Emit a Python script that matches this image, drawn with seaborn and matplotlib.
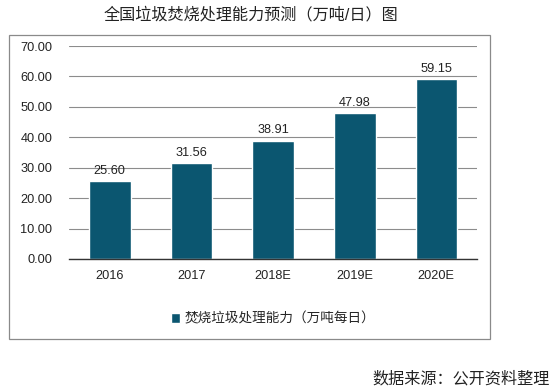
import matplotlib
matplotlib.use('Agg')
import matplotlib.pyplot as plt
import seaborn as sns
import pandas as pd
from matplotlib.patches import Rectangle

# Dados
anos = ['2016', '2017', '2018E', '2019E', '2020E']
capacidade = [25.60, 31.56, 38.91, 47.98, 59.15]
yticks = [0, 10, 20, 30, 40, 50, 60, 70]
titulo = '全国垃圾焚烧处理能力预测（万吨/日）图'
legenda = '焚烧垃圾处理能力（万吨每日）'
fonte = '数据来源：公开资料整理'

sns.set_theme(style="white")
plt.rcParams['font.family'] = ['Liberation Sans', 'Noto Sans CJK SC', 'DejaVu Sans']
plt.rcParams['axes.unicode_minus'] = False

cor = '#0B5670'
df = pd.DataFrame({'ano': anos, 'valor': capacidade})

fig = plt.figure(figsize=(5.51, 3.90), dpi=100)
ax = fig.add_axes([0.125, 0.336, 0.741, 0.546])

sns.barplot(data=df, x='ano', y='valor', color=cor, width=0.51,
            saturation=1, label=legenda, ax=ax)

ax.set_ylim(0, 70)
ax.set_yticks(yticks)
ax.set_yticklabels([f'{v:.2f}' for v in yticks])
ax.yaxis.grid(True, color='#8c8c8c', linewidth=0.8)
ax.set_axisbelow(True)
for s in ['top', 'right', 'left']:
    ax.spines[s].set_visible(False)
ax.spines['bottom'].set_color('#333333')
ax.spines['bottom'].set_linewidth(1.0)
ax.tick_params(axis='y', length=0, pad=12, labelsize=9.2, colors='#222222')
ax.tick_params(axis='x', length=0, pad=8, labelsize=9.2, colors='#222222')
ax.set_xlabel('')
ax.set_ylabel('')

ax.bar_label(ax.containers[0], fmt='%.2f', padding=3, fontsize=9.2, color='#222222')

ax.legend(loc='center', bbox_to_anchor=(0.5, -0.28), frameon=False,
          fontsize=9.8, handlelength=0.7, handleheight=0.7, handletextpad=0.3)

# moldura do gráfico
fig.patches.append(Rectangle((0.016, 0.131), 0.873, 0.779, transform=fig.transFigure,
                             fill=False, edgecolor='#8a8a8a', linewidth=0.9))

fig.text(0.455, 0.962, titulo, ha='center', va='center', fontsize=11.6, color='#222222')
fig.text(0.998, 0.03, fonte, ha='right', va='center', fontsize=11.6, color='#222222')

fig.savefig('out.png', dpi=100)
